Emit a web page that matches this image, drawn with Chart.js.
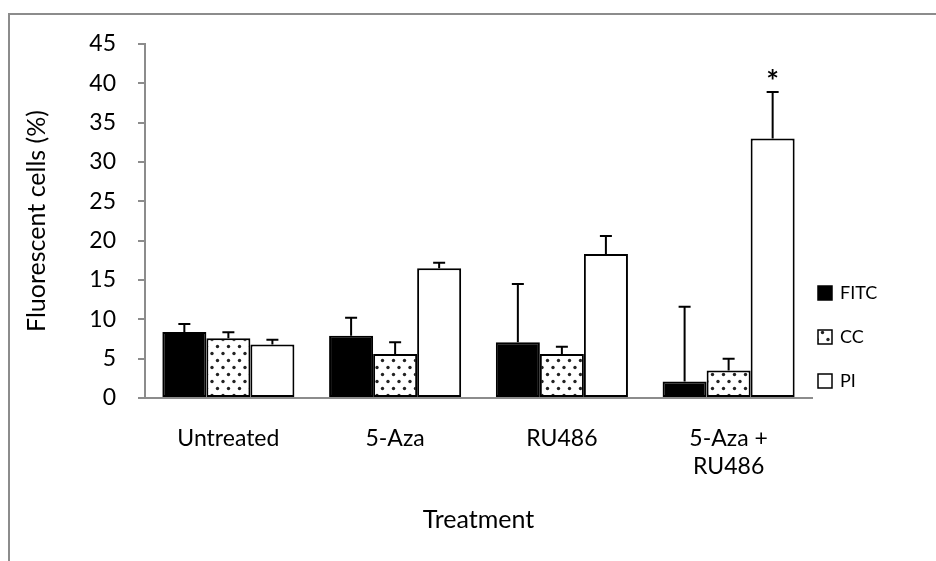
<!DOCTYPE html>
<html>
<head>
<meta charset="utf-8">
<script src="https://cdn.jsdelivr.net/npm/chart.js@4"></script>
<style>
  body { margin: 0; background: #fff; }
  #wrap { position: relative; width: 936px; height: 561px; overflow: hidden; }
  #frame { position: absolute; left: 8px; top: 13px; width: 1000px; height: 700px; border: 2px solid #8c8c8c; }
  canvas { position: absolute; left: 0; top: 0; }
</style>
</head>
<body>
<div id="wrap">
  <div id="frame"></div>
  <canvas id="chart" width="936" height="561"></canvas>
</div>
<script>
// Data
const categories = ['Untreated', '5-Aza', 'RU486', ['5-Aza +', 'RU486']];
const seriesNames = ['FITC', 'CC', 'PI'];
const fitcValues = [8.4, 7.9, 7.1, 2.1];
const fitcErrors = [1.0, 2.3, 7.4, 9.5];
const ccValues = [7.6, 5.6, 5.6, 3.5];
const ccErrors = [0.75, 1.5, 0.9, 1.5];
const piValues = [6.8, 16.5, 18.3, 33.0];
const piErrors = [0.6, 0.7, 2.3, 5.9];
const piMarks = ['', '', '', '*'];
const yMin = 0, yMax = 45, yStep = 5;

const FONT = 'Lato, "Open Sans", sans-serif';
const AXIS_GREY = '#8c8c8c';

// dotted fill for CC
function dotPattern() {
    const c = document.createElement('canvas');
    c.width = 11; c.height = 14;
    const g = c.getContext('2d');
    g.fillStyle = '#fff';
    g.fillRect(0, 0, 11, 14);
    g.fillStyle = '#222';
    [[3, 3.5], [8.5, 10.5]].forEach(p => {
        g.beginPath();
        g.arc(p[0], p[1], 1.7, 0, Math.PI * 2);
        g.fill();
    });
    return g.createPattern(c, 'repeat');
}

const errorLists = [fitcErrors, ccErrors, piErrors];
const markLists = [null, null, piMarks];

const errorBars = {
    id: 'errorBars',
    afterDatasetsDraw(chart) {
        const ctx = chart.ctx;
        const y = chart.scales.y;
        ctx.save();
        ctx.strokeStyle = '#000';
        ctx.lineWidth = 2;
        chart.data.datasets.forEach((ds, i) => {
            const meta = chart.getDatasetMeta(i);
            meta.data.forEach((bar, j) => {
                const err = errorLists[i][j];
                const top = y.getPixelForValue(ds.data[j] + err);
                ctx.beginPath();
                ctx.moveTo(bar.x, bar.y);
                ctx.lineTo(bar.x, top);
                ctx.moveTo(bar.x - 6, top);
                ctx.lineTo(bar.x + 6, top);
                ctx.stroke();
                const marks = markLists[i];
                if (marks && marks[j]) {
                    ctx.fillStyle = '#000';
                    ctx.font = 'bold 30px ' + FONT;
                    ctx.textAlign = 'center';
                    ctx.textBaseline = 'middle';
                    ctx.fillText(marks[j], bar.x, top - 10);
                }
            });
        });
        ctx.restore();
    }
};

// legend on the right, Excel style
const sideLegend = {
    id: 'sideLegend',
    afterDraw(chart) {
        const ctx = chart.ctx;
        const x = 818, rows = [293, 337, 381];
        ctx.save();
        chart.data.datasets.forEach((ds, i) => {
            const cy = rows[i];
            ctx.fillStyle = ds.backgroundColor;
            ctx.fillRect(x, cy - 7, 14, 14);
            ctx.strokeStyle = '#000';
            ctx.lineWidth = 1.5;
            ctx.strokeRect(x, cy - 7, 14, 14);
            ctx.fillStyle = '#000';
            ctx.font = '18px ' + FONT;
            ctx.textAlign = 'left';
            ctx.textBaseline = 'middle';
            ctx.fillText(ds.label, x + 22, cy);
        });
        ctx.restore();
    }
};

const ctx = document.getElementById('chart').getContext('2d');
new Chart(ctx, {
    type: 'bar',
    data: {
        labels: categories,
        datasets: [
            { label: seriesNames[0], data: fitcValues, backgroundColor: '#000', borderColor: '#000', borderWidth: 2, borderSkipped: false },
            { label: seriesNames[1], data: ccValues, backgroundColor: dotPattern(), borderColor: '#000', borderWidth: 2, borderSkipped: false },
            { label: seriesNames[2], data: piValues, backgroundColor: '#fff', borderColor: '#000', borderWidth: 2, borderSkipped: false }
        ]
    },
    options: {
        responsive: false,
        devicePixelRatio: 1,
        animation: false,
        layout: { padding: { left: 0, top: 44, right: 124, bottom: 0 } },
        datasets: { bar: { barPercentage: 1, categoryPercentage: 0.792 } },
        plugins: { legend: { display: false }, tooltip: { enabled: false } },
        scales: {
            x: {
                afterFit: s => { s.height = 163; },
                grid: { display: false, drawTicks: false },
                border: { display: true, color: AXIS_GREY, width: 2 },
                ticks: { color: '#000', font: { family: FONT, size: 23 }, padding: 27, maxRotation: 0, autoSkip: false },
                title: { display: true, text: 'Treatment', color: '#000', font: { family: FONT, size: 25 }, padding: { top: 0, bottom: 26 } }
            },
            y: {
                min: yMin, max: yMax,
                afterFit: s => { s.width = 145; },
                grid: { display: true, drawOnChartArea: false, drawTicks: true, tickLength: 7, color: AXIS_GREY, lineWidth: 2 },
                border: { display: true, color: AXIS_GREY, width: 2 },
                ticks: { stepSize: yStep, color: '#000', font: { family: FONT, size: 23 }, padding: 22 },
                title: { display: true, text: 'Fluorescent cells (%)', color: '#000', font: { family: FONT, size: 25 }, padding: { top: 22, bottom: 0 } }
            }
        }
    },
    plugins: [errorBars, sideLegend]
});
</script>
</body>
</html>
